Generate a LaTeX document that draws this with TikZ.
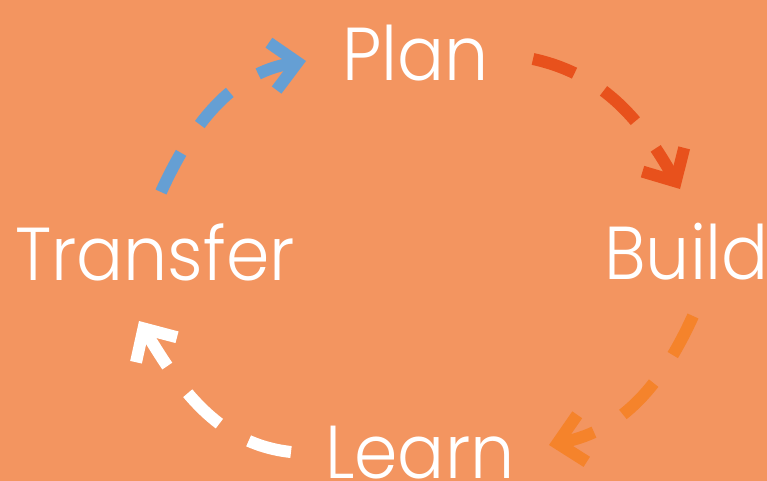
\documentclass[tikz,border=0pt]{standalone}
\usepackage{fontspec}
\IfFontExistsTF{Poppins Light}
  {\setmainfont{Poppins Light}[FakeStretch=0.93]}
  {\setmainfont{Poppins}[FakeStretch=0.93]}
\usetikzlibrary{arrows.meta}
\definecolor{bg}{HTML}{F39560}
\definecolor{cblue}{HTML}{659FD4}
\definecolor{cred}{HTML}{E8511C}
\definecolor{corange}{HTML}{F5832B}

\begin{document}
\begin{tikzpicture}[x=1pt,y=-1pt,
  stage/.style={text=white, inner sep=0pt, anchor=base west,
    font=\fontsize{75}{75}\selectfont},
  cycarrow/.style={line width=12pt, dash pattern=on 44pt off 34pt,
    -{Straight Barb[sharp,length=25pt,width=48pt]}}]
  % background
  \fill[bg] (0,0) rectangle (767,481);
  \useasboundingbox (0,0) rectangle (767,481);

  % stage labels
  \node[stage] (plan) at (342,81) {Plan};
  \node[stage] (build) at (604,279) {Build};
  \node[stage] (learn) at (325,478) {Learn};
  \node[stage] (transfer) at (15,280) {Transfer};

  % arc end points
  \coordinate (b0) at (161,192);  \coordinate (b1) at (306,61);
  \coordinate (r0) at (533,59);   \coordinate (r1) at (680,189);
  \coordinate (o0) at (693,316);  \coordinate (o1) at (549,445);
  \coordinate (w0) at (291,452);  \coordinate (w1) at (139,321);

  % dashed cycle arrows
  \draw[cycarrow, cblue]   (b0) .. controls +(31,-68) and +(-74,12) .. (b1);
  \draw[cycarrow, cred]    (r0) .. controls +(73,16) and +(-37,-65) .. (r1);
  \draw[cycarrow, corange] (o0) .. controls +(-31,68) and +(74,-15) .. (o1);
  \draw[cycarrow, white]   (w0) .. controls +(-75,-8) and +(39,64) .. (w1);
\end{tikzpicture}
\end{document}
